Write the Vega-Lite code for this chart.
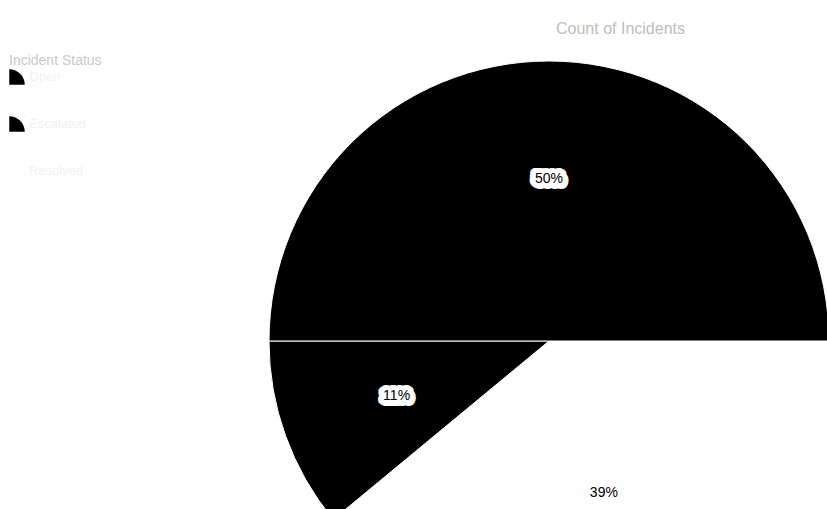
{
  "$schema": "https://vega.github.io/schema/vega-lite/v6.json",
  "width": 1098,
  "height": 582,
  "autosize": {"type": "none"},
  "padding": {"left": 0, "top": 50, "right": 0, "bottom": 0},
  "background": "white",
  "config": {"view": {"stroke": null}, "font": "Liberation Sans"},
  "title": {
    "text": "Count of Incidents",
    "anchor": "start",
    "dx": 556,
    "offset": 13,
    "fontSize": 16,
    "fontWeight": "normal",
    "color": "#bdbdbd"
  },
  "data": {
    "values": [
      {"category": "Resolved", "count": 39, "order": 1, "label": "39%"},
      {"category": "Escalated", "count": 11, "order": 2, "label": "11%"},
      {"category": "Open", "count": 50, "order": 3, "label": "50%"}
    ]
  },
  "encoding": {
    "theta": {
      "field": "count",
      "type": "quantitative",
      "stack": true,
      "scale": {"range": [1.5708, 7.854]}
    },
    "order": {"field": "order", "type": "quantitative"}
  },
  "layer": [
    {
      "mark": {"type": "arc", "outerRadius": 280, "stroke": "white", "strokeWidth": 1},
      "encoding": {
        "color": {
          "field": "category",
          "type": "nominal",
          "scale": {"domain": ["Open", "Escalated", "Resolved"], "range": ["#000000", "#000000", "#ffffff"]},
          "legend": {
            "title": "Incident Status",
            "orient": "none",
            "legendX": 9,
            "legendY": 4,
            "titleColor": "#c8c8c8",
            "titleFontWeight": "normal",
            "titleFontSize": 14,
            "titlePadding": 1,
            "labelColor": "#f2f2f2",
            "labelFontSize": 13,
            "symbolType": "M-1,-1 A2,2 0 0 1 1,1 L-1,1 Z",
            "symbolSize": 240,
            "symbolStrokeWidth": 0,
            "rowPadding": 31
          }
        }
      }
    },
    {
      "mark": {"type": "text", "radius": 162, "fontSize": 14, "stroke": "white", "strokeWidth": 10, "strokeJoin": "round", "fill": "white", "dx": -1},
      "encoding": {"text": {"field": "label"}}
    },
    {
      "mark": {"type": "text", "radius": 162, "fontSize": 14, "stroke": "white", "strokeWidth": 10, "strokeJoin": "round", "fill": "white", "dx": 1, "dy": 1},
      "encoding": {"text": {"field": "label"}}
    },
    {
      "mark": {"type": "text", "radius": 162, "fontSize": 14, "fill": "black"},
      "encoding": {"text": {"field": "label"}}
    }
  ]
}
